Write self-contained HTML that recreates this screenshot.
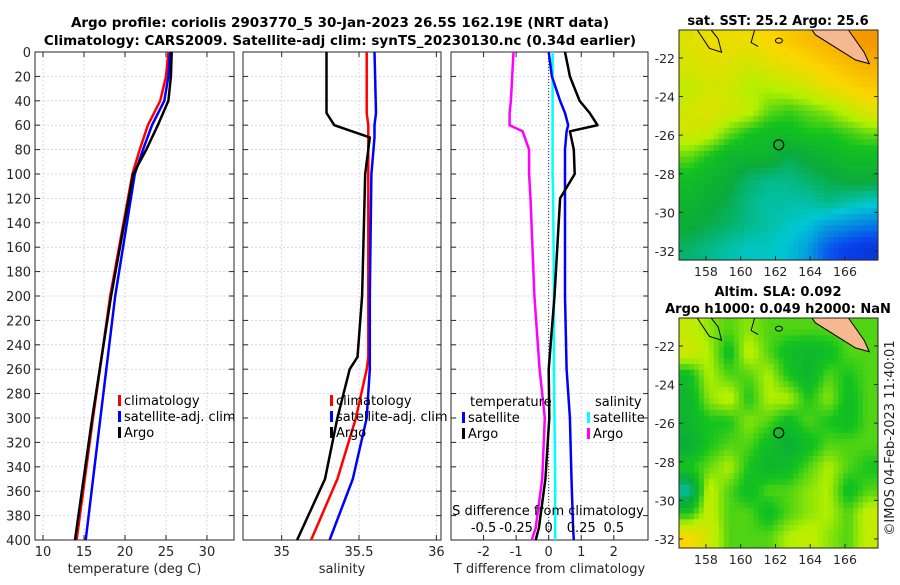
<!DOCTYPE html>
<html><head><meta charset="utf-8"><style>
html,body{margin:0;padding:0;background:#fff;}
svg text{font-family:"DejaVu Sans","Liberation Sans",sans-serif;}
</style></head><body>
<svg id="fig" width="900" height="580" viewBox="0 0 900 580" xmlns="http://www.w3.org/2000/svg">
<rect width="900" height="580" fill="#fff"/>
<text x="340" y="27" font-size="13.5" font-weight="bold" text-anchor="middle" fill="#000">Argo profile: coriolis 2903770_5 30-Jan-2023 26.5S 162.19E (NRT data)</text>
<text x="340" y="45" font-size="13.5" font-weight="bold" text-anchor="middle" fill="#000">Climatology: CARS2009. Satellite-adj clim: synTS_20230130.nc (0.34d earlier)</text>
<g id="g"></g>
<text transform="translate(894,438) rotate(-90)" font-size="13" text-anchor="middle" fill="#222">©IMOS 04-Feb-2023 11:40:01</text>
</svg>
<script>
// ---- data ----
const depths = [0,20,40,60,80,100,200,300,400];
const tempArgo = [25.7,25.6,25.3,24.0,22.6,21.0,18.3,16.0,13.9];
const tempClim = [25.3,25.0,24.3,22.8,21.8,20.9,18.2,16.1,14.1];
const tempSat = [25.5,25.3,24.8,23.3,22.2,21.2,18.8,17.0,15.2];
const salDepths = [0,50,60,70,100,200,250,260,300,350,400];
const salArgo = [35.29,35.29,35.34,35.57,35.54,35.52,35.49,35.44,35.36,35.28,35.10];
const salClim = [35.55,35.55,35.56,35.56,35.56,35.56,35.56,35.55,35.48,35.36,35.19];
const salSat = [35.60,35.61,35.60,35.60,35.58,35.57,35.57,35.57,35.55,35.46,35.31];
const dDepths = [0,20,40,50,60,65,80,100,120,200,260,300,350,390,400];
const tDiffArgo = [0.5,0.65,0.95,1.26,1.5,0.65,0.77,0.8,0.35,0.18,0,0.02,-0.1,-0.3,-0.4];
const tDiffSat = [0,0.1,0.35,0.5,0.6,0.55,0.5,0.5,0.5,0.5,0.55,0.65,0.7,0.75,0.77];
const sDiffSat = [0.03,0.03,0.03,0.03,0.03,0.03,0.03,0.03,0.035,0.04,0.04,0.045,0.05,0.05,0.05];
const sDiffArgo = [-0.27,-0.28,-0.29,-0.3,-0.3,-0.2,-0.15,-0.15,-0.14,-0.11,-0.07,-0.03,-0.05,-0.1,-0.13];
const depthTicks = [0,20,40,60,80,100,120,140,160,180,200,220,240,260,280,300,320,340,360,380,400];
const sstGrid = [
[.66,.68,.68,.68,.70,.72,.74,.76,.78,.80],
[.65,.66,.66,.64,.66,.68,.70,.72,.74,.76],
[.62,.64,.64,.60,.60,.62,.64,.68,.70,.72],
[.64,.66,.64,.62,.56,.54,.56,.58,.62,.66],
[.64,.62,.56,.52,.50,.50,.52,.52,.54,.56],
[.56,.52,.48,.48,.48,.44,.46,.48,.50,.50],
[.50,.48,.46,.42,.40,.40,.42,.44,.46,.46],
[.48,.46,.44,.40,.38,.38,.38,.40,.38,.36],
[.46,.44,.42,.40,.38,.36,.34,.30,.28,.26],
[.42,.40,.38,.36,.36,.34,.30,.22,.18,.16]];
const slaGrid = [
[.62,.58,.55,.58,.55,.55,.55,.55,.55,.55],
[.64,.60,.50,.62,.55,.50,.48,.50,.55,.55],
[.50,.60,.55,.55,.60,.52,.48,.55,.52,.55],
[.48,.58,.62,.52,.60,.60,.52,.58,.50,.55],
[.48,.52,.52,.58,.55,.50,.55,.52,.50,.55],
[.46,.52,.55,.55,.50,.46,.50,.55,.55,.55],
[.52,.56,.60,.52,.48,.50,.55,.60,.55,.52],
[.38,.62,.55,.50,.55,.55,.58,.60,.50,.55],
[.52,.62,.55,.55,.50,.55,.58,.60,.55,.62],
[.70,.64,.55,.55,.55,.60,.62,.58,.55,.62]];
const lonTicks = [158,160,162,164,166];
const latTicks = [-22,-24,-26,-28,-30,-32];

// ---- helpers ----
const NS="http://www.w3.org/2000/svg", G=document.getElementById('g');
function mk(tag,attrs,parent){const e=document.createElementNS(NS,tag);for(const k in attrs)e.setAttribute(k,attrs[k]);(parent||G).appendChild(e);return e;}
function txt(x,y,s,size,anchor,parent,extra){const t=mk('text',Object.assign({x:x,y:y,'font-size':size,'text-anchor':anchor||'middle',fill:'#262626'},extra||{}),parent);t.textContent=s;return t;}
const Y0=52,Y1=540; const yD=d=>Y0+(Y1-Y0)*d/400;

function panel(name,x0,x1,xmin,xmax,xticks,xlabel,showY){
  const g=mk('g',{});
  
  
  const sx=v=>x0+(x1-x0)*(v-xmin)/(xmax-xmin);
  depthTicks.forEach(d=>{mk('line',{x1:x0,x2:x1,y1:yD(d),y2:yD(d),stroke:'#c8cdf0','stroke-width':0.8,'stroke-dasharray':'2,2'},g);
    mk('line',{x1:x0,x2:x0+5,y1:yD(d),y2:yD(d),stroke:'#262626'},g);mk('line',{x1:x1,x2:x1-5,y1:yD(d),y2:yD(d),stroke:'#262626'},g);
    if(showY)txt(x0-4,yD(d)+5,String(d),13,'end',g);});
  xticks.forEach(v=>{const x=sx(v.v);mk('line',{x1:x,x2:x,y1:Y0,y2:Y1,stroke:'#c8cdf0','stroke-width':0.8,'stroke-dasharray':'2,2'},g);
    mk('line',{x1:x,x2:x,y1:Y1,y2:Y1-5,stroke:'#262626'},g);mk('line',{x1:x,x2:x,y1:Y0,y2:Y0+5,stroke:'#262626'},g);
    txt(x,Y1+16,v.l,13,'middle',g);});
  mk('rect',{x:x0,y:Y0,width:x1-x0,height:Y1-Y0,fill:'none',stroke:'#262626','stroke-width':1},g);
  txt((x0+x1)/2,Y1+33,xlabel,13,'middle',g);
  return {g,sx};
}
function line(p,xs,ds,color,name,w){
  const pts=xs.map((v,i)=>p.sx(v).toFixed(1)+','+yD(ds[i]).toFixed(1)).join(' ');
  const l=mk('polyline',{points:pts,fill:'none',stroke:color,'stroke-width':w||2.5,'stroke-linejoin':'round'},p.g);
  
  
}
function legend(g,x,y,items){items.forEach((it,i)=>{const yy=y+i*16;mk('rect',{x:x,y:yy-10,width:3,height:11,fill:it[0]},g);txt(x+6,yy,it[1],13,'start',g,{fill:'#000'});});}

// temperature panel
const p1=panel('temperature-panel',35,234,9.02,33.3,[10,15,20,25,30].map(v=>({v,l:String(v)})),'temperature (deg C)',true);
line(p1,tempClim,depths,'#f00','temp-climatology-line');
line(p1,tempSat,depths,'#00f','temp-satellite-line');
line(p1,tempArgo,depths,'#000','temp-argo-line');
legend(p1.g,118,405,[['#f00','climatology'],['#00f','satellite-adj. clim'],['#000','Argo']]);

// salinity panel
const p2=panel('salinity-panel',243,441,34.75,36.03,[35,35.5,36].map(v=>({v,l:String(v)})),'salinity',false);
line(p2,salClim,salDepths,'#f00','sal-climatology-line');
line(p2,salSat,salDepths,'#00f','sal-satellite-line');
line(p2,salArgo,salDepths,'#000','sal-argo-line');
legend(p2.g,330,405,[['#f00','climatology'],['#00f','satellite-adj. clim'],['#000','Argo']]);

// difference panel
const p3=panel('difference-panel',451,648,-3.0,3.05,[-2,-1,0,1,2].map(v=>({v,l:String(v)})),'T difference from climatology',false);
mk('line',{x1:p3.sx(0),x2:p3.sx(0),y1:Y0,y2:Y1,stroke:'#333','stroke-width':1,'stroke-dasharray':'1,2'},p3.g);
const sAsT=a=>a.map(v=>v*4);
line(p3,sAsT(sDiffSat),dDepths,'#0ff','sdiff-satellite-line');
line(p3,sAsT(sDiffArgo),dDepths,'#f0f','sdiff-argo-line');
line(p3,tDiffSat,dDepths,'#00f','tdiff-satellite-line');
line(p3,tDiffArgo,dDepths,'#000','tdiff-argo-line');
txt(470,406,'temperature',13,'start',p3.g,{fill:'#000'});
legend(p3.g,462,422,[['#00f','satellite'],['#000','Argo']]);
txt(595,406,'salinity',13,'start',p3.g,{fill:'#000'});
legend(p3.g,587,422,[['#0ff','satellite'],['#f0f','Argo']]);
txt(548,515,'S difference from climatology',13,'middle',p3.g,{fill:'#000'});
[[-0.5,'-0.5'],[-0.25,'-0.25'],[0,'0'],[0.25,'0.25'],[0.5,'0.5']].forEach(s=>txt(p3.sx(s[0]*4),532,s[1],13,'middle',p3.g,{fill:'#000'}));

// ---- maps ----
const cstops=[[0,[0,0,140]],[0.2,[10,70,240]],[0.35,[0,200,210]],[0.45,[10,170,60]],[0.52,[20,195,30]],[0.6,[180,240,0]],[0.7,[250,215,0]],[0.8,[245,150,0]],[1,[190,50,0]]];
function cmap(v){for(let i=1;i<cstops.length;i++){if(v<=cstops[i][0]){const a=cstops[i-1],b=cstops[i],t=(v-a[0])/(b[0]-a[0]);return 'rgb('+a[1].map((c,k)=>Math.round(c+(b[1][k]-c)*t)).join(',')+')';}}return 'rgb(190,50,0)';}
function sample(grid,fi,fj){const R=grid.length,C=grid[0].length;fi=Math.max(0,Math.min(R-1,fi));fj=Math.max(0,Math.min(C-1,fj));
  const i0=Math.floor(fi),j0=Math.floor(fj),i1=Math.min(R-1,i0+1),j1=Math.min(C-1,j0+1),ti=fi-i0,tj=fj-j0;
  return (grid[i0][j0]*(1-tj)+grid[i0][j1]*tj)*(1-ti)+(grid[i1][j0]*(1-tj)+grid[i1][j1]*tj)*ti;}
function map(name,y0,grid,titles){
  const g=mk('g',{});
  
  
  const x0=679,x1=878,h=230,y1=y0+h;
  const lonMin=156.45,lonMax=167.9,latTop=-20.55,latBot=-32.47;
  const sx=l=>x0+(x1-x0)*(l-lonMin)/(lonMax-lonMin), sy=l=>y0+h*(latTop-l)/(latTop-latBot);
  const R=grid.length,C=grid[0].length,N=40,cw=(x1-x0)/N,ch=h/N;
  for(let i=0;i<N;i++)for(let j=0;j<N;j++){
    const v=sample(grid,(i+0.5)/N*R-0.5,(j+0.5)/N*C-0.5);
    const r=mk('rect',{x:(x0+j*cw).toFixed(1),y:(y0+i*ch).toFixed(1),width:(cw+0.5).toFixed(1),height:(ch+0.5).toFixed(1),fill:cmap(v)},g);
    
    
  }
  // coast
  mk('path',{d:`M${sx(166.2)},${y0} L${sx(167.1)},${sy(-21.7)} L${sx(167.4)},${sy(-22.3)} L${sx(166.6)},${sy(-22.1)} L${sx(164.3)},${sy(-20.8)} L${sx(164.1)},${y0} Z`,fill:'#f6b890',stroke:'#000','stroke-width':1},g);
  mk('path',{d:`M${sx(157.5)},${y0} L${sx(158.2)},${sy(-21.5)} L${sx(158.9)},${sy(-21.7)} L${sx(158.7)},${sy(-21.0)} L${sx(158.3)},${y0}`,fill:'none',stroke:'#000','stroke-width':1},g);
  mk('path',{d:`M${sx(160.8)},${y0} L${sx(160.6)},${sy(-21.2)} L${sx(161.0)},${sy(-21.4)}`,fill:'none',stroke:'#000','stroke-width':1},g);
  mk('ellipse',{cx:sx(162.2),cy:sy(-21.1),rx:3.5,ry:2.5,fill:'none',stroke:'#000','stroke-width':1},g);
  mk('circle',{cx:sx(162.19),cy:sy(-26.5),r:5,fill:'none',stroke:'#000','stroke-width':1.2},g);
  mk('rect',{x:x0,y:y0,width:x1-x0,height:h,fill:'none',stroke:'#262626'},g);
  lonTicks.forEach(l=>{const x=sx(l);mk('line',{x1:x,x2:x,y1:y1,y2:y1-4,stroke:'#262626'},g);txt(x,y1+16,String(l),12.5,'middle',g);});
  latTicks.forEach(l=>{const y=sy(l);mk('line',{x1:x0,x2:x0+4,y1:y,y2:y,stroke:'#262626'},g);mk('line',{x1:x1,x2:x1-4,y1:y,y2:y,stroke:'#262626'},g);txt(x0-4,y+5,String(l),12.5,'end',g);});
  titles.forEach((t,i)=>txt(778,y0-5-(titles.length-1-i)*17,t,13,'middle',g,{'font-weight':'bold',fill:'#000'}));
}
map('sst-map',30,sstGrid,['sat. SST: 25.2 Argo: 25.6']);
map('sla-map',318,slaGrid,['Altim. SLA: 0.092','Argo h1000: 0.049 h2000: NaN']);
</script>
</body></html>
